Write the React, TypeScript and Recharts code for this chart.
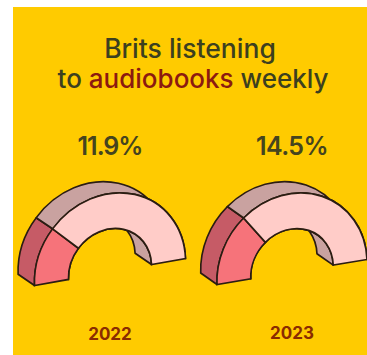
import { PieChart, Pie, Cell } from 'recharts';

const years = ['2022', '2023'];
const listeners = [11.9, 14.5];
const remainder = [38.1, 35.5];
const segments = ['listeners', 'rest'];

const CHART = 240;
const CENTER = 130;
const OUTER = 100;
const INNER = 55;
const DEPTH_X = -21;
const DEPTH_Y = -18;

const INK = '#2b1d12';
const FRONT = ['#F6737A', '#FFCCC8'];
const WALL = ['#C65B66', '#C9A2A0'];

const polar = (cx: number, cy: number, r: number, deg: number) => {
  const a = (deg * Math.PI) / 180;
  return `${cx + r * Math.cos(a)} ${cy - r * Math.sin(a)}`;
};

// extruded side of a sector, swept back from the front face along its arc
const wallShape = (radiusKey: 'outerRadius' | 'innerRadius') => (props: any) => {
  const { cx, cy, startAngle, endAngle, fill } = props;
  const r = props[radiusKey];
  const bx = cx + DEPTH_X;
  const by = cy + DEPTH_Y;
  const d = [
    `M ${polar(cx, cy, r, startAngle)}`,
    `A ${r} ${r} 0 0 1 ${polar(cx, cy, r, endAngle)}`,
    `L ${polar(bx, by, r, endAngle)}`,
    `A ${r} ${r} 0 0 0 ${polar(bx, by, r, startAngle)}`,
    'Z',
  ].join(' ');
  return <path d={d} fill={fill} stroke={INK} strokeWidth={2.2} strokeLinejoin="round" />;
};

function Arch({ index, left, top, matrix }: { index: number; left: number; top: number; matrix: string }) {
  const data = [
    { name: segments[0], value: listeners[index] },
    { name: segments[1], value: remainder[index] },
  ];
  const common = {
    data,
    dataKey: 'value',
    cx: CENTER,
    cy: CENTER,
    innerRadius: INNER,
    outerRadius: OUTER,
    startAngle: 180,
    endAngle: 0,
    stroke: INK,
    strokeWidth: 2.2,
    isAnimationActive: false,
  };
  return (
    <div
      style={{
        position: 'absolute',
        left: left - CENTER,
        top: top - CENTER,
        transform: matrix,
        transformOrigin: `${CENTER}px ${CENTER}px`,
      }}
    >
      <PieChart width={CHART} height={CHART} margin={{ top: 0, right: 0, bottom: 0, left: 0 }}>
        <Pie {...common} shape={wallShape('innerRadius')}>
          {WALL.map((c) => <Cell key={c} fill={c} />)}
        </Pie>
        <Pie {...common} shape={wallShape('outerRadius')}>
          {WALL.map((c) => <Cell key={c} fill={c} />)}
        </Pie>
        <Pie {...common}>
          {FRONT.map((c) => <Cell key={c} fill={c} />)}
        </Pie>
      </PieChart>
    </div>
  );
}

const textBase = {
  position: 'absolute' as const,
  whiteSpace: 'nowrap' as const,
  fontFamily: 'Inter, "Noto Sans", sans-serif',
  transform: 'translateX(-50%)',
  lineHeight: 1,
};

export default function App() {
  return (
    <div style={{ position: 'absolute', left: 0, top: 0, width: 367, height: 355, overflow: 'hidden', background: '#fff' }}>
      <div style={{ position: 'absolute', left: 13, top: 7, right: 0, bottom: 0, background: '#FFCB00' }} />

      <div style={{ ...textBase, left: 190, top: 35, fontSize: 26.5, fontWeight: 500, color: '#3C401F' }}>Brits listening</div>
      <div style={{ ...textBase, left: 193, top: 66, fontSize: 26, fontWeight: 500, color: '#3C401F' }}>
        to <span style={{ color: '#8C1A10' }}>audiobooks</span> weekly
      </div>

      <div style={{ ...textBase, left: 110, top: 134, fontSize: 25, fontWeight: 600, letterSpacing: -1, color: '#45441F' }}>{listeners[0]}%</div>
      <div style={{ ...textBase, left: 292, top: 134, fontSize: 25, fontWeight: 600, letterSpacing: -0.6, color: '#45441F' }}>{listeners[1]}%</div>

      <Arch index={0} left={110} top={271.5} matrix="matrix(0.755,-0.135,0.03,0.78,0,0)" />
      <Arch index={1} left={292} top={271.5} matrix="matrix(0.75,-0.125,0.03,0.78,0,0)" />

      <div style={{ ...textBase, left: 110, top: 326, fontSize: 17, fontWeight: 700, color: '#8A2C00' }}>{years[0]}</div>
      <div style={{ ...textBase, left: 292, top: 325, fontSize: 17, fontWeight: 700, color: '#8A2C00' }}>{years[1]}</div>
    </div>
  );
}
